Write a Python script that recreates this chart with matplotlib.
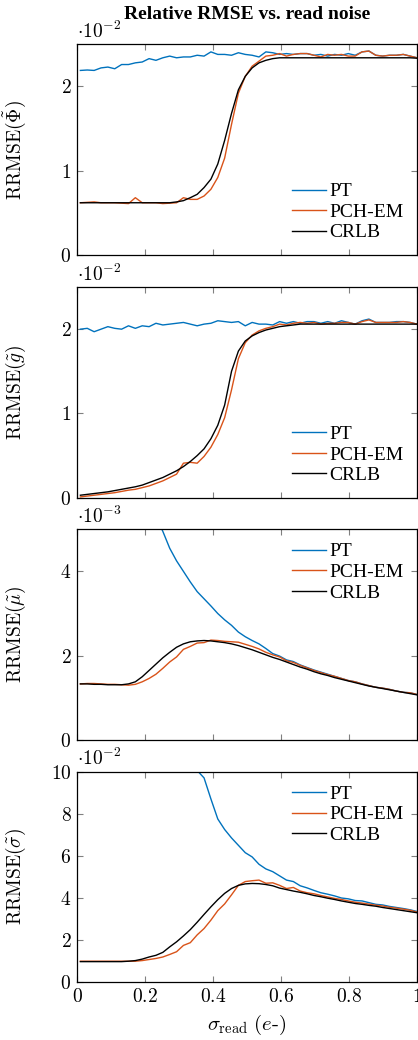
import numpy as np
import matplotlib
matplotlib.use("Agg")
from matplotlib import pyplot as plt
from matplotlib.ticker import FuncFormatter

plt.rcParams['font.family'] = 'serif'
plt.rcParams['font.serif'] = ['cmr10', 'DejaVu Serif']
plt.rcParams['mathtext.fontset'] = 'cm'
plt.rcParams['axes.formatter.use_mathtext'] = True
plt.rcParams['axes.unicode_minus'] = False

# read noise grid (e-)
sigmaRead = np.linspace(0.01, 1.0, 50)

# RRMSE(Phi), units of 1e-2
phiPT = [2.19, 2.195, 2.19, 2.22, 2.23, 2.21, 2.26, 2.26, 2.28, 2.29,
         2.33, 2.31, 2.34, 2.36, 2.34, 2.35, 2.35, 2.37, 2.36, 2.41,
         2.38, 2.38, 2.37, 2.40, 2.38, 2.37, 2.35, 2.41, 2.40, 2.38,
         2.39, 2.38, 2.39, 2.39, 2.37, 2.38, 2.36, 2.38, 2.37, 2.39,
         2.37, 2.41, 2.42, 2.37, 2.36, 2.37, 2.37, 2.38, 2.36, 2.34]
phiEM = [0.62, 0.625, 0.63, 0.62, 0.62, 0.62, 0.615, 0.61, 0.68, 0.62,
         0.62, 0.62, 0.61, 0.615, 0.62, 0.68, 0.66, 0.66, 0.70, 0.78,
         0.92, 1.15, 1.55, 1.92, 2.12, 2.24, 2.30, 2.36, 2.37, 2.39,
         2.36, 2.38, 2.39, 2.39, 2.37, 2.35, 2.38, 2.37, 2.38, 2.36,
         2.36, 2.41, 2.42, 2.37, 2.36, 2.37, 2.37, 2.38, 2.36, 2.34]
phiCRLB = [0.62, 0.62, 0.62, 0.62, 0.62, 0.62, 0.62, 0.62, 0.62, 0.62,
           0.62, 0.62, 0.62, 0.62, 0.63, 0.645, 0.68, 0.72, 0.80, 0.90,
           1.08, 1.36, 1.68, 1.96, 2.12, 2.22, 2.28, 2.31, 2.33, 2.34,
           2.34, 2.34, 2.34, 2.34, 2.34, 2.34, 2.34, 2.34, 2.34, 2.34,
           2.34, 2.34, 2.34, 2.34, 2.34, 2.34, 2.34, 2.34, 2.34, 2.335]

# RRMSE(g), units of 1e-2
gPT = [2.00, 2.01, 1.97, 2.00, 2.03, 2.01, 2.00, 2.04, 2.01, 2.04,
       2.03, 2.07, 2.05, 2.06, 2.07, 2.08, 2.06, 2.04, 2.06, 2.07,
       2.10, 2.09, 2.08, 2.09, 2.04, 2.08, 2.06, 2.06, 2.05, 2.09,
       2.07, 2.09, 2.07, 2.09, 2.09, 2.07, 2.09, 2.07, 2.10, 2.08,
       2.06, 2.10, 2.12, 2.08, 2.08, 2.08, 2.09, 2.09, 2.08, 2.06]
gEM = [0.01, 0.02, 0.03, 0.04, 0.05, 0.06, 0.075, 0.09, 0.10, 0.12,
       0.14, 0.17, 0.20, 0.24, 0.28, 0.41, 0.42, 0.41, 0.49, 0.60,
       0.75, 0.95, 1.28, 1.65, 1.84, 1.93, 1.98, 2.01, 2.03, 2.06,
       2.05, 2.07, 2.08, 2.07, 2.08, 2.06, 2.07, 2.07, 2.08, 2.08,
       2.06, 2.09, 2.11, 2.08, 2.08, 2.08, 2.08, 2.09, 2.08, 2.06]
gCRLB = [0.03, 0.04, 0.05, 0.06, 0.07, 0.085, 0.10, 0.115, 0.13, 0.15,
         0.18, 0.21, 0.24, 0.28, 0.32, 0.37, 0.43, 0.50, 0.58, 0.70,
         0.86, 1.10, 1.50, 1.74, 1.86, 1.92, 1.96, 1.99, 2.01, 2.03,
         2.04, 2.05, 2.06, 2.06, 2.06, 2.06, 2.06, 2.06, 2.06, 2.06,
         2.06, 2.06, 2.06, 2.06, 2.06, 2.06, 2.06, 2.06, 2.06, 2.06]

# RRMSE(mu), units of 1e-3
muPT = [11.5, 10.5, 9.7, 9.0, 8.4, 7.8, 7.3, 6.8, 6.4, 6.0,
        5.6, 5.3, 4.95, 4.55, 4.25, 4.00, 3.75, 3.52, 3.35, 3.18,
        3.00, 2.85, 2.72, 2.56, 2.45, 2.36, 2.28, 2.17, 2.05, 1.99,
        1.90, 1.86, 1.78, 1.72, 1.66, 1.61, 1.56, 1.51, 1.46, 1.41,
        1.38, 1.33, 1.29, 1.25, 1.23, 1.20, 1.16, 1.13, 1.12, 1.08]
muEM = [1.33, 1.34, 1.34, 1.33, 1.32, 1.32, 1.31, 1.30, 1.32, 1.38,
        1.46, 1.56, 1.70, 1.85, 1.97, 2.15, 2.22, 2.30, 2.31, 2.37,
        2.36, 2.34, 2.33, 2.32, 2.27, 2.22, 2.16, 2.08, 2.02, 1.97,
        1.88, 1.84, 1.77, 1.71, 1.65, 1.60, 1.55, 1.51, 1.46, 1.41,
        1.38, 1.33, 1.29, 1.25, 1.23, 1.20, 1.16, 1.13, 1.12, 1.08]
muCRLB = [1.33, 1.33, 1.32, 1.32, 1.31, 1.31, 1.31, 1.33, 1.38, 1.50,
          1.65, 1.80, 1.95, 2.08, 2.20, 2.28, 2.33, 2.35, 2.36, 2.35,
          2.33, 2.31, 2.28, 2.24, 2.19, 2.14, 2.08, 2.02, 1.96, 1.91,
          1.85, 1.79, 1.73, 1.68, 1.62, 1.57, 1.53, 1.48, 1.44, 1.40,
          1.36, 1.32, 1.28, 1.25, 1.22, 1.19, 1.16, 1.13, 1.10, 1.07]

# RRMSE(sigma), units of 1e-2
sigPT = [40.0, 36.0, 32.0, 29.0, 26.0, 23.5, 21.0, 19.0, 17.5, 16.0,
         14.8, 13.8, 12.9, 12.1, 11.4, 10.8, 10.4, 10.05, 9.7, 8.7,
         7.75, 7.25, 6.85, 6.50, 6.15, 5.95, 5.60, 5.38, 5.25, 5.05,
         4.85, 4.78, 4.58, 4.48, 4.36, 4.25, 4.18, 4.10, 4.00, 3.96,
         3.88, 3.86, 3.78, 3.70, 3.67, 3.60, 3.55, 3.50, 3.44, 3.36]
sigEM = [1.00, 1.00, 1.00, 1.00, 1.00, 1.00, 1.00, 1.00, 1.00, 1.03,
         1.08, 1.13, 1.20, 1.32, 1.45, 1.75, 1.88, 2.25, 2.55, 2.95,
         3.40, 3.72, 4.15, 4.60, 4.78, 4.82, 4.85, 4.70, 4.72, 4.60,
         4.45, 4.50, 4.33, 4.25, 4.20, 4.12, 4.05, 3.98, 3.93, 3.86,
         3.80, 3.76, 3.71, 3.66, 3.62, 3.56, 3.52, 3.47, 3.42, 3.33]
sigCRLB = [0.98, 0.98, 0.98, 0.98, 0.98, 0.98, 0.98, 1.00, 1.03, 1.10,
           1.20, 1.28, 1.42, 1.68, 1.92, 2.20, 2.50, 2.85, 3.22, 3.58,
           3.92, 4.22, 4.45, 4.60, 4.67, 4.69, 4.68, 4.64, 4.58, 4.47,
           4.40, 4.33, 4.27, 4.20, 4.12, 4.06, 3.99, 3.93, 3.86, 3.80,
           3.74, 3.70, 3.65, 3.61, 3.55, 3.50, 3.45, 3.40, 3.35, 3.30]

yLabels = [r'$\mathrm{RRMSE}(\tilde{\Phi})$', r'$\mathrm{RRMSE}(\tilde{g})$',
           r'$\mathrm{RRMSE}(\tilde{\mu})$', r'$\mathrm{RRMSE}(\tilde{\sigma})$']
scales = [r'$\cdot 10^{-2}$', r'$\cdot 10^{-2}$', r'$\cdot 10^{-3}$', r'$\cdot 10^{-2}$']
yLims = [2.5, 2.5, 5, 10]
yTicks = [[0, 1, 2], [0, 1, 2], [0, 2, 4], [0, 2, 4, 6, 8, 10]]
xTicks = [0, 0.2, 0.4, 0.6, 0.8, 1.0]
legendLoc = ['lower right', 'lower right', 'upper right', 'upper right']
panels = [(phiPT, phiEM, phiCRLB), (gPT, gEM, gCRLB),
          (muPT, muEM, muCRLB), (sigPT, sigEM, sigCRLB)]

colPT = '#0072BD'
colEM = '#D95319'
legFont = {'family': 'Liberation Serif', 'size': 14}
tickFmt = FuncFormatter(lambda v, p: r'$%g$' % v)

fig = plt.figure(figsize=(4.18, 10.4), dpi=100)
bottoms = [0.7548, 0.5214, 0.2885, 0.0555]
axes = []
for k in range(4):
    ax = fig.add_axes([0.1842, bottoms[k], 0.8134, 0.2026])
    pt, em, cr = panels[k]
    ax.plot(sigmaRead, pt, color=colPT, lw=1.0, label='PT')
    ax.plot(sigmaRead, em, color=colEM, lw=1.0, label='PCH-EM')
    ax.plot(sigmaRead, cr, color='black', lw=1.0, label='CRLB')
    ax.set_xlim(0, 1)
    ax.set_ylim(0, yLims[k])
    ax.set_yticks(yTicks[k])
    ax.set_xticks(xTicks)
    ax.xaxis.set_major_formatter(tickFmt)
    ax.yaxis.set_major_formatter(tickFmt)
    ax.tick_params(direction='in', top=True, right=True, length=4,
                   color='#808080', labelsize=14, pad=4)
    if k < 3:
        ax.tick_params(labelbottom=False)
    for s in ax.spines.values():
        s.set_linewidth(0.9)
    ax.set_ylabel(yLabels[k], fontsize=14)
    ax.yaxis.set_label_coords(-0.145, 0.5)
    ax.text(0.0, 1.012, scales[k], transform=ax.transAxes, ha='left',
            va='bottom', fontsize=14)
    ax.legend(loc=legendLoc[k], frameon=False, prop=legFont,
              handlelength=1.75, handletextpad=0.15, labelspacing=0.15,
              borderaxespad=0.3)
    axes.append(ax)

axes[0].set_title('Relative RMSE vs. read noise', fontsize=14, fontweight='bold',
                  family='Liberation Serif', pad=18)
axes[3].set_xlabel(r'$\sigma_{\mathrm{read}}\ (e$-$)$', fontsize=15, labelpad=5)

fig.savefig('out.png', dpi=100)
